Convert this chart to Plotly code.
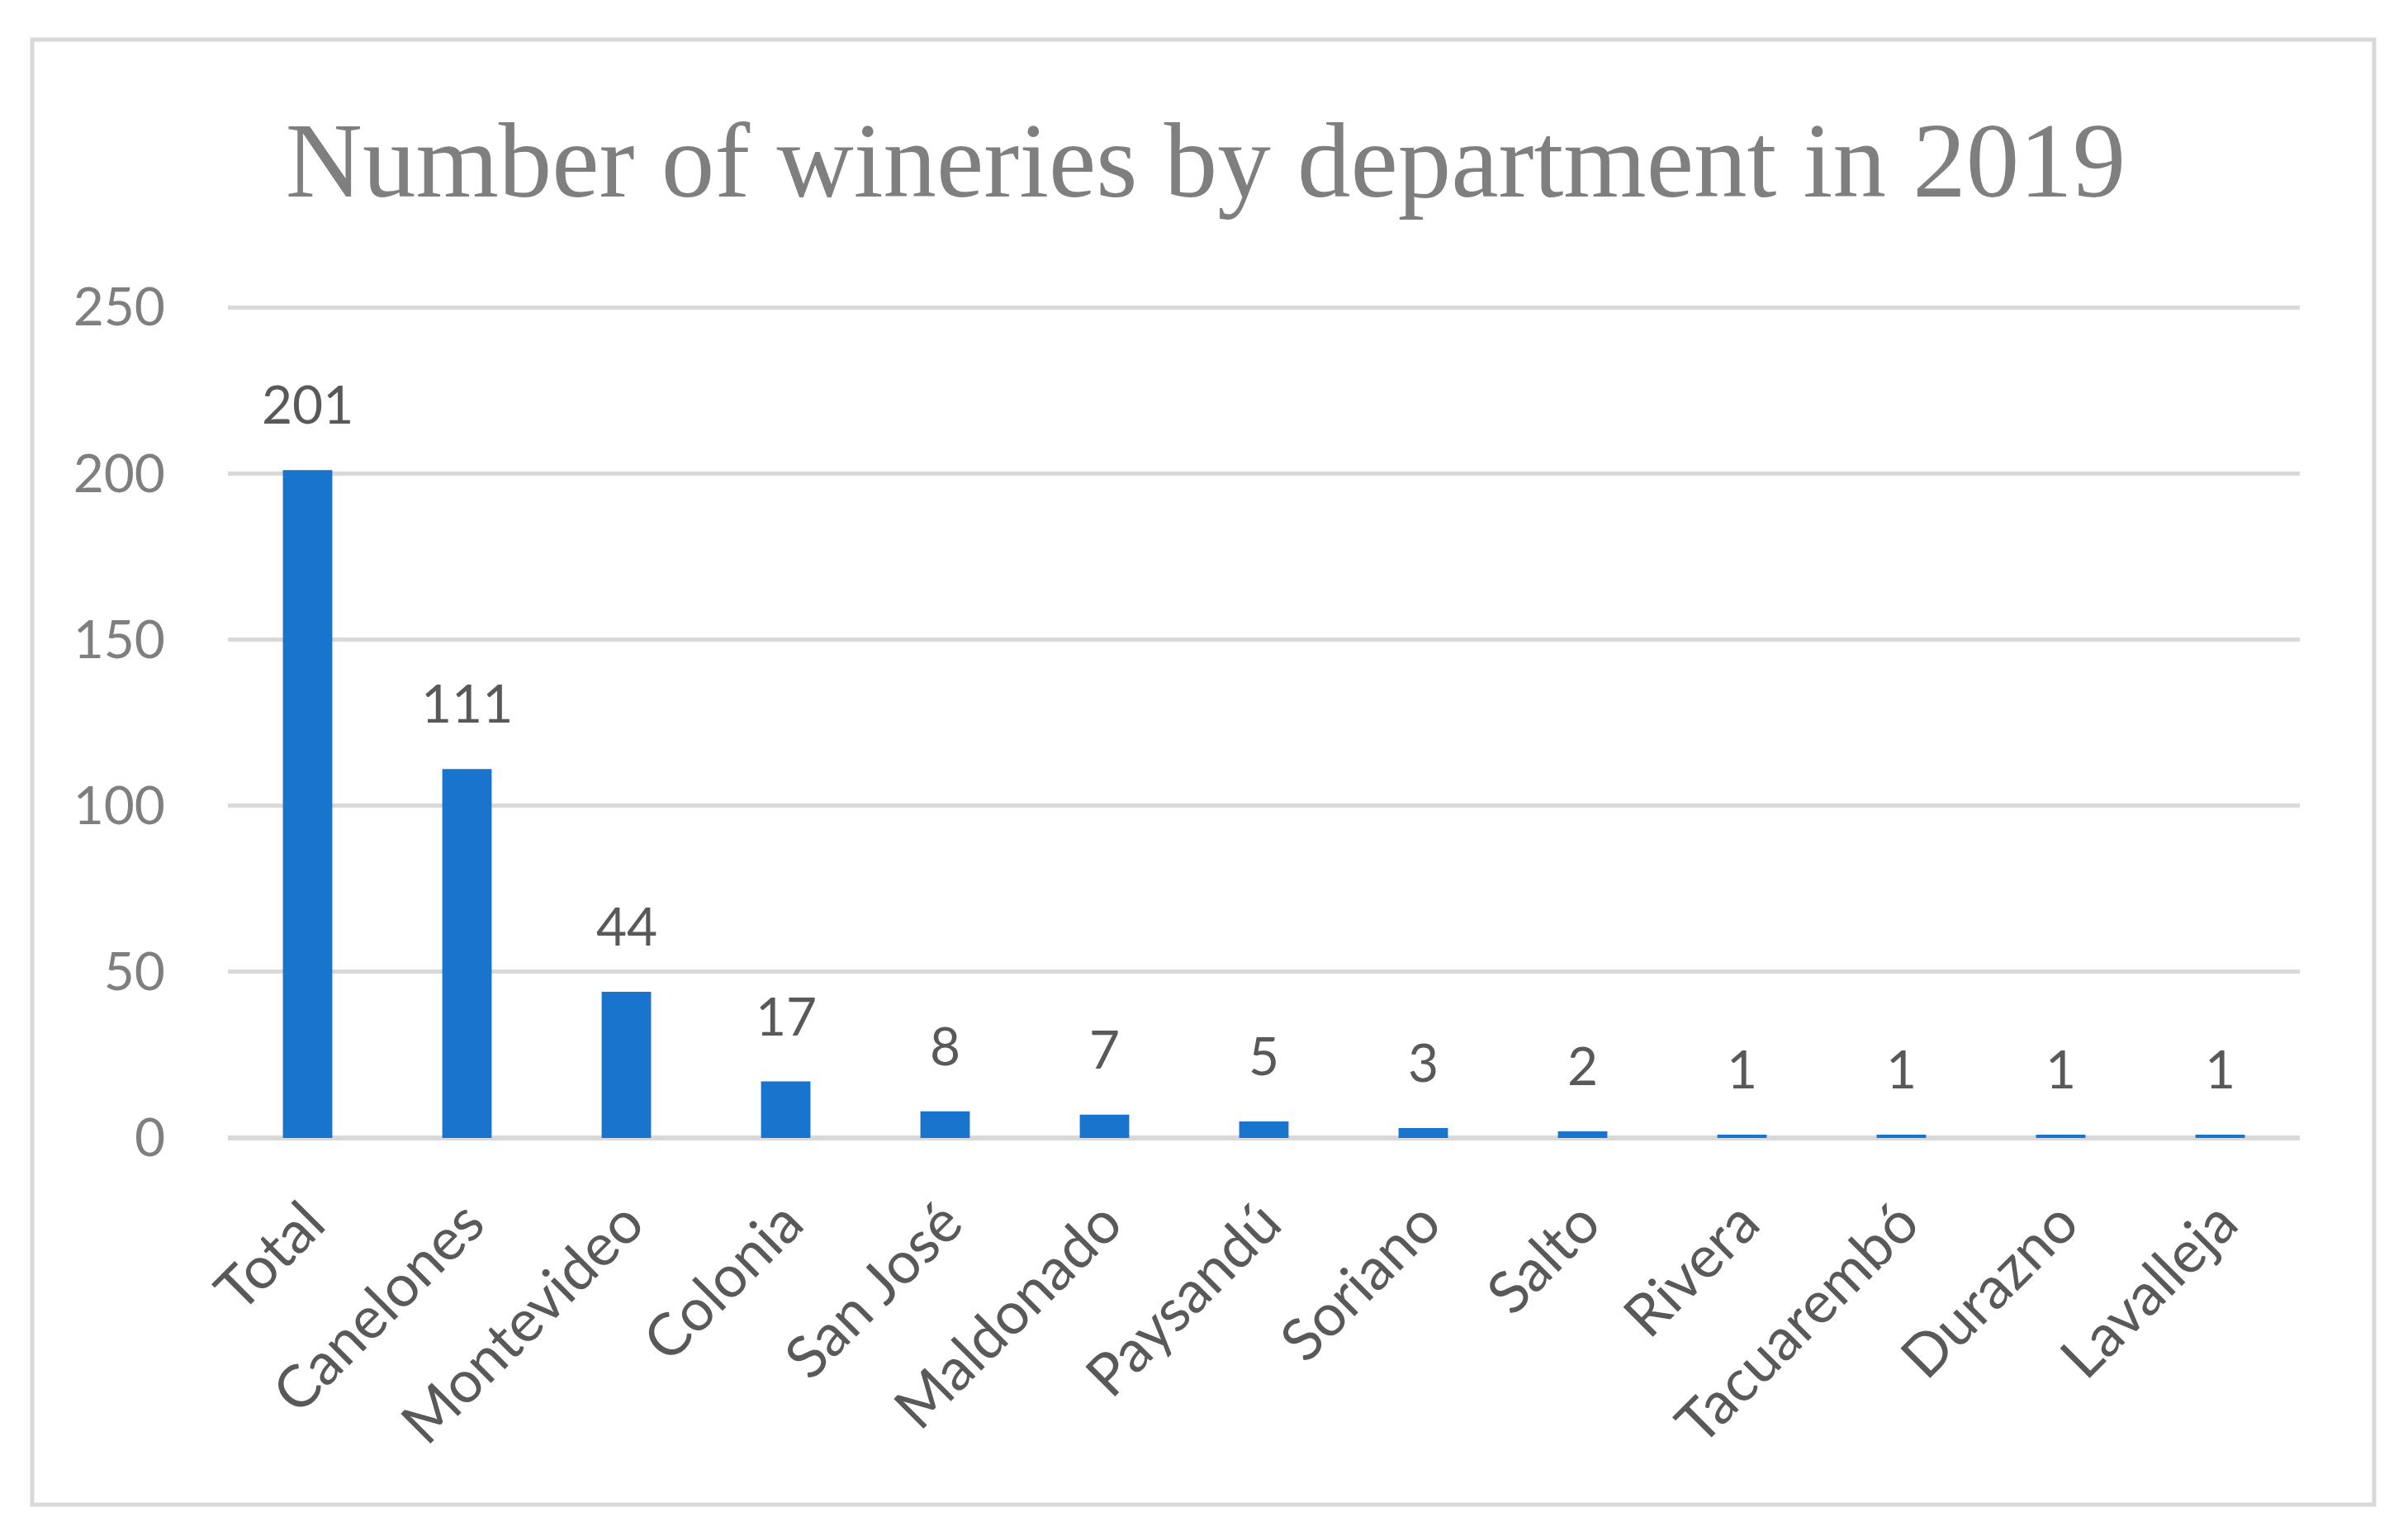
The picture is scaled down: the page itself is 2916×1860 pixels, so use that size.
import plotly.graph_objects as go

departments = ["Total", "Canelones", "Montevideo", "Colonia", "San José", "Maldonado",
               "Paysandú", "Soriano", "Salto", "Rivera", "Tacuarembó", "Durazno", "Lavalleja"]
wineries = [201, 111, 44, 17, 8, 7, 5, 3, 2, 1, 1, 1, 1]
y_ticks = [0, 50, 100, 150, 200, 250]

W, H = 2916, 1860
y_top = 251.5
L, R, B = 276, 131, 482
ph = round(1006 * y_top / 250)
T = H - B - ph
pw = W - L - R

fig = go.Figure()
fig.add_trace(go.Bar(
    x=departments, y=wineries,
    marker=dict(color="#1874CD", line=dict(width=0)),
    hoverinfo="x+y",
))

for d, v in zip(departments, wineries):
    fig.add_annotation(x=d, y=v, text=str(v), showarrow=False,
                       xref="x", yref="y", yanchor="bottom", yshift=40,
                       font=dict(family="Lato", size=64, color="#595959"))

# outer chart frame
fx0 = (39 - L) / pw
fx1 = (2875 - L) / pw
fy1 = (H - B - 48) / ph
fy0 = (H - B - 1822) / ph
fig.add_shape(type="rect", xref="paper", yref="paper",
              x0=fx0, x1=fx1, y0=fy0, y1=fy1,
              line=dict(color="#D9D9D9", width=5), fillcolor="rgba(0,0,0,0)", layer="below")

fig.update_layout(
    width=W, height=H,
    margin=dict(l=L, r=R, t=T, b=B, autoexpand=False),
    paper_bgcolor="white", plot_bgcolor="white",
    bargap=0.69,
    showlegend=False,
    title=dict(text="Number of wineries by department in 2019",
               x=1460 / W, xref="container", xanchor="center",
               y=1 - 193 / H, yref="container", yanchor="middle",
               font=dict(family="Liberation Serif", size=129, color="#7F7F7F")),
    xaxis=dict(
        type="category", tickangle=-45,
        tickfont=dict(family="Lato", size=71, color="#595959"),
        showgrid=False, showline=False, ticks="", zeroline=False,
        ticklabelstandoff=46,
    ),
    yaxis=dict(
        range=[0, y_top], tickvals=y_ticks, ticktext=[str(t) for t in y_ticks],
        tickfont=dict(family="Lato", size=64, color="#7F7F7F"),
        showgrid=True, gridcolor="#D9D9D9", gridwidth=5,
        zeroline=True, zerolinecolor="#D9D9D9", zerolinewidth=6,
        showline=False, ticks="", ticklabelstandoff=75,
    ),
)

fig.write_html("out.html", config={"displayModeBar": False},
               post_script="document.body.style.margin='0';")
